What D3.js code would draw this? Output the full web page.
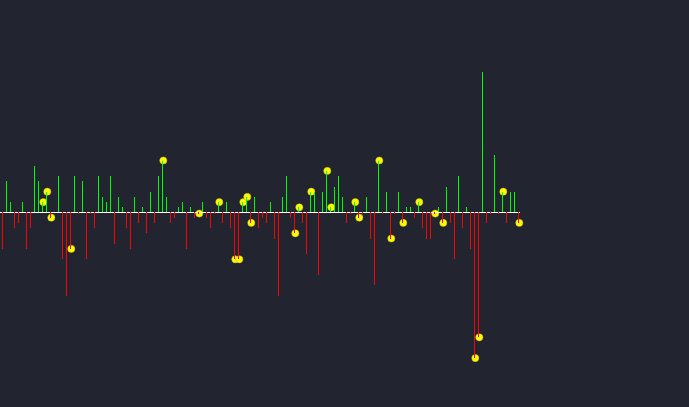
<!DOCTYPE html>
<html>
<head>
<meta charset="utf-8">
<script src="https://cdn.jsdelivr.net/npm/d3@7"></script>
<style>
  html, body { margin: 0; padding: 0; background: #22242f; }
  svg { display: block; }
</style>
</head>
<body>
<svg id="chart" width="689" height="407"></svg>
<script>
// bar values (one per slot, in chart units)
const values = [
  -7, 6, 2, -3, -2, 2, -7, -3, 9, 6,
  2, 4, -1, 0, 7, -9, -16, -7, 7, -0.2,
  6, -9, -0.2, -3, 7, 3, 2, 7, -6, 3,
  1, -3, -7, 3, -2, 1, -4, 4, -2, 7,
  10, 3, -2, -1, 1, 2, -7, 1, -1, -0.2,
  2, -1, -3, -0.2, 2, -2, 2, -3, -9, -9,
  2, 3, -2, 3, -3, -1, -2, 2, -5, -16,
  3, 7, -1, -4, 1, -2, -8, 4, 4, -12,
  4, 8, 1, 5, 7, 3, -2, -0.2, 2, -1,
  -0.2, 3, -5, -14, 10, -0.2, 4, -5, -0.2, 4,
  -2, 1, 1, -1, 2, -3, -5, -5, -0.2, 1,
  -2, 5, -2, -9, 7, -3, 1, -7, -28, -24,
  27, -2, -0.2, 11, -0.2, 4, -2, 4, 4, -2
];
// indices of bars marked with a dot
const markers = [10, 11, 12, 17, 40, 49, 54, 58, 59, 60, 61, 62, 73, 74, 77, 81, 82,
  88, 89, 94, 97, 100, 104, 108, 110, 118, 119, 125, 129];

const svg = d3.select("#chart");
const x = d3.scaleLinear().domain([0, values.length]).range([2, 2 + 4 * values.length]);
const y = d3.scaleLinear().domain([-30, 30]).range([368.5, 56.5]);
const base = 212;

// markers (under the bars)
svg.append("g").selectAll("circle")
  .data(markers)
  .join("circle")
  .attr("cx", i => x(i) + 1.3)
  .attr("cy", i => y(values[i]))
  .attr("r", 3.6)
  .attr("fill", "#ffff00")
  .attr("stroke", "#b5b21a")
  .attr("stroke-width", 0.5);

// baseline
svg.append("line")
  .attr("x1", x(-0.5)).attr("x2", x(values.length - 0.5))
  .attr("y1", base + 0.5).attr("y2", base + 0.5)
  .attr("stroke", "#ffffff").attr("stroke-width", 1)
  .attr("shape-rendering", "crispEdges");

// bars
svg.append("g").selectAll("rect")
  .data(values.map((v, i) => ({ v, i })).filter(d => d.v !== 0))
  .join("rect")
  .attr("x", d => x(d.i))
  .attr("width", 1)
  .attr("y", d => d.v > 0 ? y(d.v) : base)
  .attr("height", d => d.v > 0 ? base - y(d.v) : Math.max(1, y(d.v) - base))
  .attr("fill", d => d.v > 0 ? "#00ff00" : "#ff0000")
  .attr("shape-rendering", "crispEdges");
</script>
</body>
</html>
